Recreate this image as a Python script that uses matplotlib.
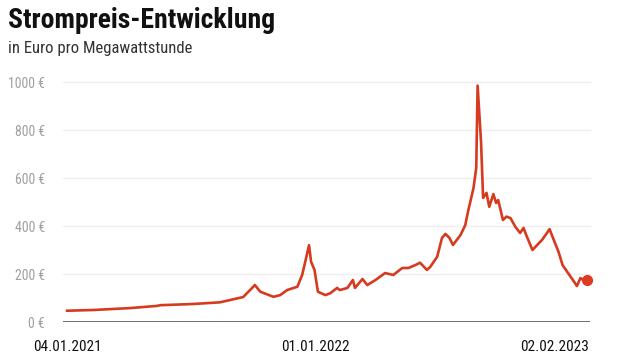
import numpy as np
import pandas as pd
import matplotlib
matplotlib.use('Agg')
from matplotlib import pyplot as plt
import matplotlib.dates as mdates

# Strompreis, Euro pro MWh
dates = ['2021-01-04', '2021-02-11', '2021-04-06', '2021-05-15', '2021-05-20', '2021-07-07',
         '2021-08-15', '2021-09-18', '2021-10-05', '2021-10-13', '2021-11-01', '2021-11-11',
         '2021-11-21', '2021-12-06', '2021-12-13', '2021-12-17', '2021-12-23', '2021-12-26',
         '2021-12-31', '2022-01-05', '2022-01-16', '2022-01-23', '2022-02-02', '2022-02-06',
         '2022-02-17', '2022-02-25', '2022-02-28', '2022-03-11', '2022-03-18', '2022-03-30',
         '2022-04-13', '2022-04-25', '2022-05-08', '2022-05-17', '2022-05-27', '2022-06-03',
         '2022-06-13', '2022-06-18', '2022-06-28', '2022-07-05', '2022-07-10', '2022-07-16',
         '2022-07-21', '2022-08-01', '2022-08-08', '2022-08-12', '2022-08-20', '2022-08-24',
         '2022-08-26', '2022-08-31', '2022-09-03', '2022-09-08', '2022-09-12', '2022-09-18',
         '2022-09-22', '2022-09-25', '2022-10-02', '2022-10-07', '2022-10-13', '2022-10-20',
         '2022-10-27', '2022-11-01', '2022-11-05', '2022-11-14', '2022-11-21', '2022-11-28',
         '2022-12-03', '2022-12-09', '2022-12-14', '2022-12-22', '2022-12-28', '2023-01-05',
         '2023-01-18', '2023-01-23', '2023-01-27', '2023-02-02']
prices = [47, 50, 58, 67, 70, 75,
          82, 104, 154, 126, 105, 112,
          133, 147, 196, 245, 320, 251,
          217, 126, 112, 120, 142, 133,
          142, 175, 142, 179, 154, 175,
          204, 196, 225, 225, 237, 247,
          217, 230, 272, 350, 367, 350,
          321, 362, 404, 460, 558, 642,
          985, 751, 517, 538, 480, 533,
          496, 508, 425, 439, 433, 397,
          371, 392, 362, 300, 321, 342,
          362, 387, 350, 293, 237, 204,
          150, 183, 175, 175]
y_ticks = [0, 200, 400, 600, 800, 1000]
x_ticks = ['2021-01-04', '2022-01-01', '2023-02-04']
x_labels = ['04.01.2021', '01.01.2022', '02.02.2023']

fonts = ['Roboto Condensed', 'Open Sans Condensed', 'Archivo Narrow', 'PT Sans Narrow',
         'Liberation Sans Narrow', 'DejaVu Sans']
plt.rcParams['font.family'] = fonts

d = pd.to_datetime(dates)
xt = pd.to_datetime(x_ticks)

fig = plt.figure(figsize=(6.31, 3.6), dpi=100)
ax = fig.add_axes([63 / 631, 1 - 322 / 360, (590 - 63) / 631, (322 - 82) / 360])

for v in y_ticks[1:]:
    ax.axhline(v, color='#efefef', lw=1, zorder=0, clip_on=False)
ax.axhline(0, color='#555555', lw=1.2, zorder=1)

ax.plot(d, prices, color='#d63a1f', lw=1.9, solid_joinstyle='round', zorder=3, clip_on=False)
ax.plot(d[-1], prices[-1], 'o', color='#e03a22', ms=7, zorder=4, clip_on=False)

ax.set_ylim(0, 1000)
ax.set_xlim(pd.Timestamp('2020-12-29'), pd.Timestamp('2023-02-06'))
for s in ax.spines.values():
    s.set_visible(False)
ax.set_yticks(y_ticks)
ax.set_yticklabels([f'{v} €' for v in y_ticks], color='#a0a0a0', fontsize=10)
ax.tick_params(axis='y', length=0, pad=13)
ax.set_xticks([])

for t, lab, ha in zip(xt, x_labels, ['center', 'center', 'right']):
    ax.text(mdates.date2num(t), -0.105, lab, transform=ax.get_xaxis_transform(), ha=ha,
            va='center', fontsize=11, color='#111111')

fig.text(8 / 631, 1 - 21 / 360, 'Strompreis-Entwicklung', fontsize=20, fontweight='bold',
         ha='left', va='center', color='#111111')
fig.text(8 / 631, 1 - 48 / 360, 'in Euro pro Megawattstunde', fontsize=12,
         ha='left', va='center', color='#333333')

fig.savefig('out.png', dpi=100)
